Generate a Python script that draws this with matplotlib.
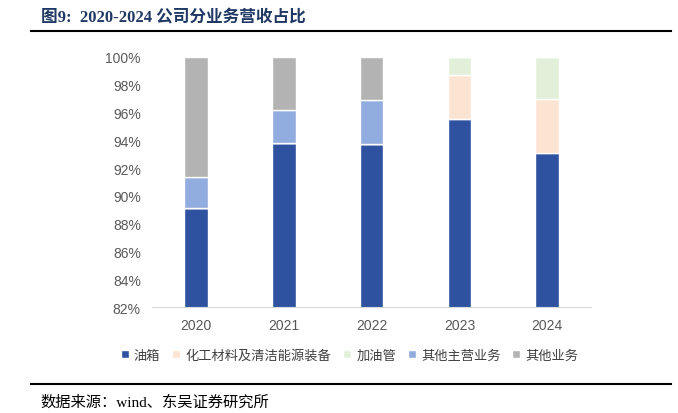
import numpy as np
import matplotlib.pyplot as plt
from matplotlib.ticker import FuncFormatter

years = ["2020", "2021", "2022", "2023", "2024"]
you_xiang = [89.13, 93.8, 93.7, 95.5, 93.1]          # 油箱
hua_gong = [0, 0, 0, 3.2, 3.9]                       # 化工材料及清洁能源装备
jia_you_guan = [0, 0, 0, 1.3, 3.0]                   # 加油管
qi_ta_zhu_ying = [2.23, 2.4, 3.2, 0, 0]              # 其他主营业务
qi_ta = [8.64, 3.8, 3.1, 0, 0]                       # 其他业务

names = ["油箱", "化工材料及清洁能源装备", "加油管", "其他主营业务", "其他业务"]
series = [you_xiang, hua_gong, jia_you_guan, qi_ta_zhu_ying, qi_ta]
colors = ["#2F52A0", "#FCE4D3", "#E2F0D9", "#91ACDE", "#B3B3B3"]

plt.rcParams['font.family'] = ['Liberation Sans', 'Noto Sans CJK SC']

fig = plt.figure(figsize=(6.78, 4.14), dpi=100)
ax = fig.add_axes([0.224, 0.256, 0.648, 0.604])

x = np.arange(len(years))
bottom = np.zeros(len(years))
for name, vals, c in zip(names, series, colors):
    vals = np.array(vals)
    ax.bar(x, vals, 0.27, bottom=bottom, color=c, edgecolor="white", linewidth=1.0, label=name)
    bottom += vals

ax.set_ylim(82, 100)
ax.set_xlim(-0.5, 4.5)
ax.set_yticks(np.arange(82, 101, 2))
ax.yaxis.set_major_formatter(FuncFormatter(lambda v, p: f"{v:.0f}%"))
ax.set_xticks(x)
ax.set_xticklabels(years)
ax.tick_params(axis="both", length=0, labelsize=10, colors="#595959", pad=8)
for s in ["top", "right", "left"]:
    ax.spines[s].set_visible(False)
ax.spines["bottom"].set_color("#D9D9D9")

ax.legend(loc="upper center", bbox_to_anchor=(0.45, -0.12), ncol=5, frameon=False,
          fontsize=9.5, handlelength=0.6, handleheight=0.6, handletextpad=0.4,
          columnspacing=0.9, labelcolor="#404040")

fig.text(0.06, 0.958, "图9:  2020-2024 公司分业务营收占比", fontsize=12, fontweight="bold",
         color="#1F3864", va="center", family=['Liberation Serif', 'Noto Sans CJK SC'])
fig.add_artist(plt.Line2D([0.045, 0.99], [0.922, 0.922], color="black", linewidth=1.5))
fig.add_artist(plt.Line2D([0.045, 0.99], [0.07, 0.07], color="black", linewidth=1.5))
fig.text(0.06, 0.028, "数据来源：wind、东吴证券研究所", fontsize=11, color="black", va="center",
         family=['Liberation Serif', 'Noto Sans CJK SC'])

fig.savefig("out.png", dpi=100)
